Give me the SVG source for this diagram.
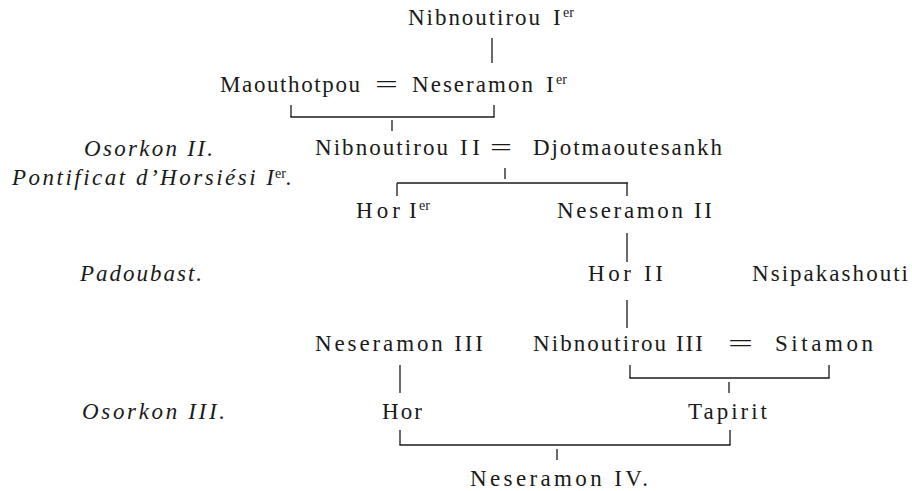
<svg xmlns="http://www.w3.org/2000/svg" width="912" height="491" viewBox="0 0 912 491">
<style>
.n{font-family:"Liberation Serif","Times New Roman",serif;font-size:23px;fill:#1a1a1a}
.i{font-family:"Liberation Serif","Times New Roman",serif;font-size:23px;font-style:italic;fill:#1a1a1a}
.s{font-size:14px}
.c line{stroke:#1a1a1a;stroke-width:1.3}
</style>
<rect width="912" height="491" fill="#ffffff"/>
<g id="reigns">
<g id="r-osorkon2"><text class="i" x="84" y="156" textLength="129" lengthAdjust="spacing">Osorkon II.</text></g>
<g id="r-pontificat"><text class="i" x="12" y="185" textLength="262" lengthAdjust="spacing">Pontificat d’Horsiési I</text><text class="n s" x="275" y="178">er</text><text class="i" x="286" y="185">.</text></g>
<g id="r-padoubast"><text class="i" x="80" y="281" textLength="122" lengthAdjust="spacing">Padoubast.</text></g>
<g id="r-osorkon3"><text class="i" x="82" y="419" textLength="143" lengthAdjust="spacing">Osorkon III.</text></g>
</g>
<g id="nibnoutirou1"><text class="n" x="408" y="25" textLength="132" lengthAdjust="spacing">Nibnoutirou</text><text class="n" x="553" y="25">I</text><text class="n s" x="563" y="17">er</text></g>
<g id="maouthotpou"><text class="n" x="220" y="92" textLength="140" lengthAdjust="spacing">Maouthotpou</text></g>
<g id="eq1"><text class="n" x="375" y="92" textLength="23" lengthAdjust="spacingAndGlyphs">=</text></g>
<g id="neseramon1"><text class="n" x="412" y="92" textLength="121" lengthAdjust="spacing">Neseramon</text><text class="n" x="546" y="92">I</text><text class="n s" x="556" y="84">er</text></g>
<g id="nibnoutirou2"><text class="n" x="315" y="155" textLength="133" lengthAdjust="spacing">Nibnoutirou</text><text class="n" x="460" y="155" textLength="20" lengthAdjust="spacing">II</text></g>
<g id="eq2"><text class="n" x="490" y="155" textLength="22" lengthAdjust="spacingAndGlyphs">=</text></g>
<g id="djotmaoutesankh"><text class="n" x="533" y="155" textLength="189" lengthAdjust="spacing">Djotmaoutesankh</text></g>
<g id="hor1"><text class="n" x="356" y="218" textLength="44" lengthAdjust="spacing">Hor</text><text class="n" x="409" y="218">I</text><text class="n s" x="419" y="210">er</text></g>
<g id="neseramon2"><text class="n" x="557" y="218" textLength="155" lengthAdjust="spacing">Neseramon II</text></g>
<g id="hor2"><text class="n" x="588" y="281" textLength="75" lengthAdjust="spacing">Hor II</text></g>
<g id="nsipakashouti"><text class="n" x="752" y="281" textLength="156" lengthAdjust="spacing">Nsipakashouti</text></g>
<g id="neseramon3"><text class="n" x="315" y="351" textLength="168" lengthAdjust="spacing">Neseramon III</text></g>
<g id="nibnoutirou3"><text class="n" x="533" y="351" textLength="170" lengthAdjust="spacing">Nibnoutirou III</text></g>
<g id="eq3"><text class="n" x="728" y="351" textLength="25" lengthAdjust="spacingAndGlyphs">=</text></g>
<g id="sitamon"><text class="n" x="775" y="351" textLength="98" lengthAdjust="spacing">Sitamon</text></g>
<g id="hor"><text class="n" x="382" y="419" textLength="40" lengthAdjust="spacing">Hor</text></g>
<g id="tapirit"><text class="n" x="688" y="419" textLength="79" lengthAdjust="spacing">Tapirit</text></g>
<g id="neseramon4"><text class="n" x="470" y="486" textLength="178" lengthAdjust="spacing">Neseramon IV.</text></g>
<g class="c" id="connectors">
<line x1="492" y1="38" x2="492" y2="63"/>
<line x1="291" y1="105" x2="291" y2="117"/>
<line x1="494" y1="105" x2="494" y2="117"/>
<line x1="290.4" y1="117" x2="494.6" y2="117"/>
<line x1="392" y1="120" x2="392" y2="131"/>
<line x1="505" y1="168" x2="505" y2="179"/>
<line x1="397" y1="183" x2="628" y2="183"/>
<line x1="397" y1="183" x2="397" y2="196"/>
<line x1="627" y1="183" x2="627" y2="196"/>
<line x1="627" y1="233" x2="627" y2="262"/>
<line x1="627" y1="300" x2="627" y2="328"/>
<line x1="400" y1="365" x2="400" y2="393"/>
<line x1="630" y1="365" x2="630" y2="378"/>
<line x1="829" y1="365" x2="829" y2="378"/>
<line x1="629.4" y1="378" x2="829.6" y2="378"/>
<line x1="729" y1="382" x2="729" y2="393"/>
<line x1="400" y1="430" x2="400" y2="445"/>
<line x1="730" y1="430" x2="730" y2="445"/>
<line x1="399.4" y1="445" x2="730.6" y2="445"/>
<line x1="557" y1="449" x2="557" y2="460"/>
</g>
</svg>
